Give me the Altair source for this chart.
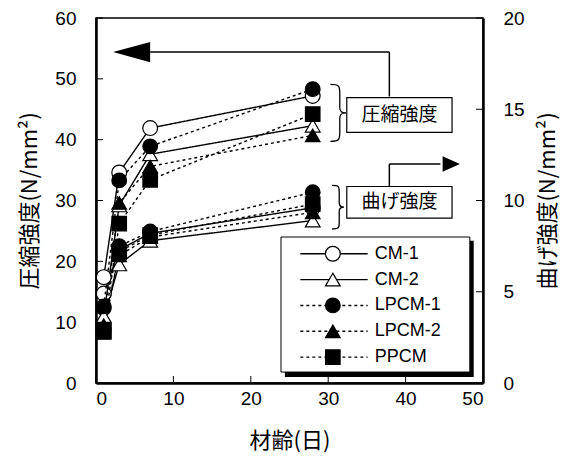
import altair as alt
import pandas as pd

# ---------------- data ----------------
days = [1, 3, 7, 28]
series = ["CM-1", "CM-2", "LPCM-1", "LPCM-2", "PPCM"]

comp_cm1 = [17.4, 34.6, 41.9, 47.2]
comp_cm2 = [11.0, 29.2, 37.6, 42.3]
comp_lpcm1 = [12.6, 33.3, 38.9, 48.3]
comp_lpcm2 = [9.5, 29.6, 35.6, 40.7]
comp_ppcm = [8.5, 26.2, 33.4, 44.2]

flex_cm1 = [4.9, 7.3, 8.2, 9.6]
flex_cm2 = [3.6, 6.5, 7.8, 8.9]
flex_lpcm1 = [4.1, 7.5, 8.3, 10.45]
flex_lpcm2 = [3.3, 7.0, 8.0, 9.35]
flex_ppcm = [2.8, 7.2, 8.1, 9.8]

x_ticks = [0, 10, 20, 30, 40, 50]
left_ticks = [0, 10, 20, 30, 40, 50, 60]
right_ticks = [0, 5, 10, 15, 20]

# ---------------- styles ----------------
W, H = 387, 365
dash_range = [[1, 0], [1, 0], [3, 3], [3, 3], [3, 3]]
shape_range = ["circle", "triangle-up", "circle", "triangle-up", "square"]
fill_range = ["white", "white", "black", "black", "black"]
size_range = [220, 210, 140, 150, 130]
JP = "Noto Sans CJK JP"
EN = "Liberation Sans"


def long_df(vals):
    rows = []
    for s, v in zip(series, vals):
        for d, y in zip(days, v):
            rows.append({"x": d, "y": y, "series": s})
    return pd.DataFrame(rows)


comp_df = long_df([comp_cm1, comp_cm2, comp_lpcm1, comp_lpcm2, comp_ppcm])
flex_df = long_df([flex_cm1, flex_cm2, flex_lpcm1, flex_lpcm2, flex_ppcm])

xs = alt.Scale(domain=[0, 50], nice=False)
ys_left = alt.Scale(domain=[0, 60], nice=False)
ys_right = alt.Scale(domain=[0, 20], nice=False)

x_axis = alt.Axis(values=x_ticks, title="材齢(日)", labelPadding=6, titlePadding=22,
                  domainWidth=2.5, ticks=False, grid=False)
left_axis = alt.Axis(values=left_ticks, title="圧縮強度(N/mm²)", orient="left",
                     labelPadding=20, titlePadding=13, domainWidth=2.5, ticks=False, grid=False)
right_axis = alt.Axis(values=right_ticks, title="曲げ強度(N/mm²)", orient="right",
                      labelPadding=20, titlePadding=35, titleAngle=270, domainWidth=2.5,
                      ticks=False, grid=False)

dash_enc = alt.StrokeDash("series:N", scale=alt.Scale(domain=series, range=dash_range), legend=None)
shape_enc = alt.Shape("series:N", scale=alt.Scale(domain=series, range=shape_range), legend=None)
fill_enc = alt.Fill("series:N", scale=alt.Scale(domain=series, range=fill_range), legend=None)
size_enc = alt.Size("series:N", scale=alt.Scale(domain=series, range=size_range), legend=None)


def X(field="x"):
    return alt.X(f"{field}:Q", scale=xs, axis=x_axis)


def YL(field="y"):
    return alt.Y(f"{field}:Q", scale=ys_left, axis=left_axis)


def YR(field="y"):
    return alt.Y(f"{field}:Q", scale=ys_right, axis=right_axis)


# ---------------- right (flexural) group ----------------
flex_lines = alt.Chart(flex_df).mark_line(color="black", strokeWidth=1.4).encode(
    x=X(), y=YR(), strokeDash=dash_enc, detail="series:N")
flex_pts = alt.Chart(flex_df).mark_point(filled=True, stroke="black", strokeWidth=1.2, opacity=1).encode(
    x=X(), y=YR(), shape=shape_enc, fill=fill_enc, size=size_enc)
right_tick_rules = alt.Chart(pd.DataFrame({"y": right_ticks})).mark_rule(color="black", strokeWidth=1).encode(
    y=YR(), x=alt.value(W - 7), x2=alt.value(W))

right_group = alt.layer(flex_lines, flex_pts, right_tick_rules)

# ---------------- left (compressive) group ----------------
comp_lines = alt.Chart(comp_df).mark_line(color="black", strokeWidth=1.4).encode(
    x=X(), y=YL(), strokeDash=dash_enc, detail="series:N")
comp_pts = alt.Chart(comp_df).mark_point(filled=True, stroke="black", strokeWidth=1.2, opacity=1).encode(
    x=X(), y=YL(), shape=shape_enc, fill=fill_enc, size=size_enc)

left_tick_rules = alt.Chart(pd.DataFrame({"y": left_ticks})).mark_rule(color="black", strokeWidth=1).encode(
    y=YL(), x=alt.value(0), x2=alt.value(7))
bottom_tick_rules = alt.Chart(pd.DataFrame({"x": x_ticks})).mark_rule(color="black", strokeWidth=1).encode(
    x=X(), y=alt.value(H), y2=alt.value(H - 7))

# legend (drawn in data coordinates of the left axis)
legend_rows = [21.25, 17.0, 12.75, 8.5, 4.25]
leg_box = {"x": 23.9, "x2": 48.3, "y": 1.8, "y2": 24.0}
leg_shadow = {"x": 24.4, "x2": 48.8, "y": 1.0, "y2": 23.4}
leg_line = (26.4, 35.1)
leg_marker_x = 30.6
leg_text_x = 36.0

legend_df = pd.DataFrame({"series": series, "y": legend_rows})
legend_df["x"] = leg_marker_x
legend_df["xa"] = leg_line[0]
legend_df["xb"] = leg_line[1]
legend_df["xt"] = leg_text_x

shadow = alt.Chart(pd.DataFrame([leg_shadow])).mark_rect(fill="black").encode(
    x=X(), x2="x2", y=YL(), y2="y2")
box = alt.Chart(pd.DataFrame([leg_box])).mark_rect(fill="white", stroke="black", strokeWidth=1).encode(
    x=X(), x2="x2", y=YL(), y2="y2")
leg_lines = alt.Chart(legend_df).mark_rule(color="black", strokeWidth=1.4).encode(
    x=X("xa"), x2="xb", y=YL(), strokeDash=dash_enc)
leg_pts = alt.Chart(legend_df).mark_point(filled=True, stroke="black", strokeWidth=1.2, opacity=1).encode(
    x=X(), y=YL(), shape=shape_enc, fill=fill_enc, size=size_enc)
leg_text = alt.Chart(legend_df).mark_text(align="left", baseline="middle", font=EN, fontSize=18,
                                          color="black").encode(
    x=X("xt"), y=YL(), text="series:N")

# annotations
arrow_segments = pd.DataFrame([
    {"x": 37.9, "x2": 37.9, "y": 47.1, "y2": 54.4},
    {"x": 7.0, "x2": 37.9, "y": 54.4, "y2": 54.4},
    {"x": 37.9, "x2": 37.9, "y": 32.3, "y2": 36.0},
    {"x": 37.9, "x2": 44.5, "y": 36.0, "y2": 36.0},
])
arrow_rules = alt.Chart(arrow_segments).mark_rule(color="black", strokeWidth=1.5).encode(
    x=X(), x2="x2", y=YL(), y2="y2")

head_left = pd.DataFrame([{"x": 4.6, "y": 54.4}])
head_right = pd.DataFrame([{"x": 45.9, "y": 36.0}])
arrow_head_left = alt.Chart(head_left).mark_point(
    shape="M-1,0L1,-0.55L1,0.55Z", size=1369, filled=True, color="black", opacity=1).encode(x=X(), y=YL())
arrow_head_right = alt.Chart(head_right).mark_point(
    shape="M1,0L-1,-0.9L-1,0.9Z", size=300, filled=True, color="black", opacity=1).encode(x=X(), y=YL())

brace_path = ("M-0.25,-1 C0.05,-1 0.08,-0.95 0.08,-0.7 L0.08,-0.2 C0.08,-0.04 0.15,0 0.3,0 "
              "C0.15,0 0.08,0.04 0.08,0.2 L0.08,0.7 C0.08,0.95 0.05,1 -0.25,1")
brace1 = alt.Chart(pd.DataFrame([{"x": 31.2, "y": 44.4}])).mark_point(
    shape=brace_path, size=3249, filled=False, color="black", strokeWidth=1.3, opacity=1).encode(x=X(), y=YL())
brace2 = alt.Chart(pd.DataFrame([{"x": 31.2, "y": 28.9}])).mark_point(
    shape=brace_path, size=1900, filled=False, color="black", strokeWidth=1.3, opacity=1).encode(x=X(), y=YL())

label_boxes = pd.DataFrame([
    {"x": 32.4, "x2": 46.0, "y": 41.2, "y2": 46.9, "xc": 39.2, "yc": 44.1, "label": "圧縮強度"},
    {"x": 32.4, "x2": 46.0, "y": 27.1, "y2": 32.3, "xc": 39.2, "yc": 29.7, "label": "曲げ強度"},
])
lbl_rects = alt.Chart(label_boxes).mark_rect(fill="white", stroke="black", strokeWidth=1.2).encode(
    x=X(), x2="x2", y=YL(), y2="y2")
lbl_text = alt.Chart(label_boxes).mark_text(font=JP, fontSize=19, color="black", baseline="middle").encode(
    x=X("xc"), y=YL("yc"), text="label:N")

left_group = alt.layer(
    comp_lines, left_tick_rules, bottom_tick_rules,
    arrow_rules, arrow_head_left, arrow_head_right,
    comp_pts,
    shadow, box, leg_lines, leg_pts, leg_text,
    brace1, brace2, lbl_rects, lbl_text,
)

chart = alt.layer(right_group, left_group).resolve_scale(
    y="independent"
).properties(
    width=W, height=H,
    autosize=alt.AutoSizeParams(type="none"),
    padding={"left": 88, "top": 10, "right": 82, "bottom": 79},
).configure_view(
    stroke="black", strokeWidth=1.5
).configure_axis(
    labelFont=EN, labelFontSize=19, labelColor="black",
    titleFont=JP, titleFontSize=22, titleFontWeight="normal", titleColor="black",
    domainColor="black",
)

chart.save("out.html", embed_options={"renderer": "svg", "actions": False})
